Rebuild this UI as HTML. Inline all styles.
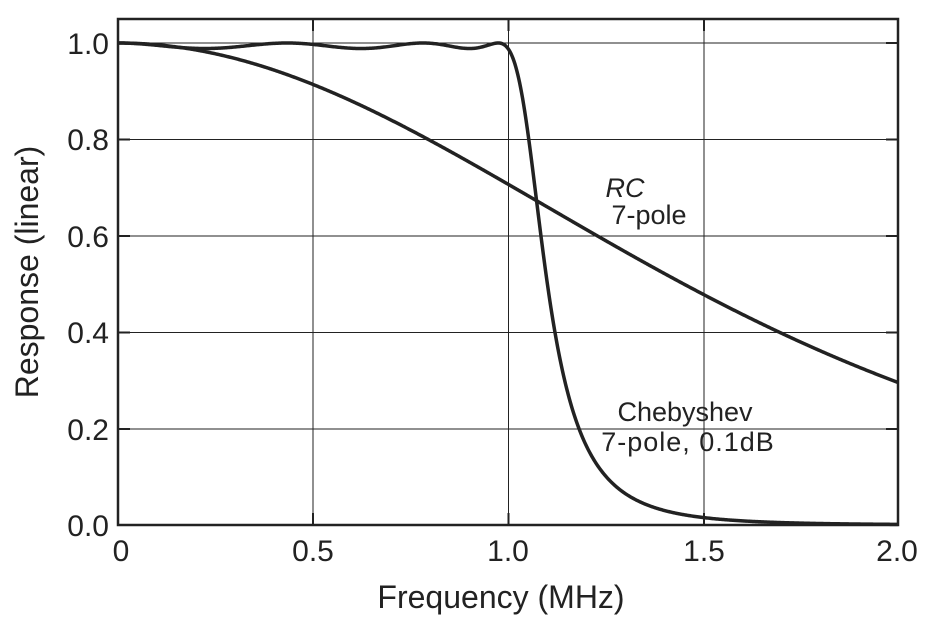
<!DOCTYPE html>
<html><head><meta charset="utf-8"><style>
html,body{margin:0;padding:0;background:#fff;}
svg{display:block;font-family:"Liberation Sans",Arial,sans-serif;}
</style></head><body>
<svg id="s" width="934" height="625" viewBox="0 0 934 625" xmlns="http://www.w3.org/2000/svg">
<g stroke="#222" stroke-width="1" fill="none">
<line x1="313" y1="19" x2="313" y2="525"/>
<line x1="508.5" y1="19" x2="508.5" y2="525"/>
<line x1="704" y1="19" x2="704" y2="525"/>
<line x1="118" y1="43" x2="898" y2="43"/>
<line x1="118" y1="139.5" x2="898" y2="139.5"/>
<line x1="118" y1="236" x2="898" y2="236"/>
<line x1="118" y1="332.5" x2="898" y2="332.5"/>
<line x1="118" y1="429" x2="898" y2="429"/>
</g>
<g stroke="#222" stroke-width="2" fill="none">
<path d="M313 19v12M508.5 19v12M704 19v12M313 525v-12M508.5 525v-12M704 525v-12M118 139.5h12M118 236h12M118 332.5h12M118 429h12M898 139.5h-12M898 236h-12M898 332.5h-12M898 429h-12M118 43h12M898 43h-12"/>
</g>
<rect x="118" y="19" width="780" height="506" fill="none" stroke="#222" stroke-width="2.5"/>
<path id="rc" fill="none" stroke="#222" stroke-width="3.5"/>
<path id="ch" fill="none" stroke="#222" stroke-width="3.5"/>
<g font-size="30" fill="#222" text-anchor="end">
<text x="109" y="54">1.0</text>
<text x="109" y="150">0.8</text>
<text x="109" y="247">0.6</text>
<text x="109" y="343">0.4</text>
<text x="109" y="440">0.2</text>
<text x="109" y="536">0.0</text>
</g>
<g font-size="30" fill="#222" text-anchor="middle">
<text x="121" y="561">0</text>
<text x="313" y="561">0.5</text>
<text x="508" y="561">1.0</text>
<text x="704" y="561">1.5</text>
<text x="897" y="561">2.0</text>
<text x="501" y="608" font-size="32">Frequency (MHz)</text>
<text transform="translate(38,272) rotate(-90)" font-size="32">Response (linear)</text>
<text x="625" y="197" font-size="27" font-style="italic">RC</text>
<text x="649" y="224" font-size="27">7-pole</text>
<text x="685" y="421" font-size="27">Chebyshev</text>
<text x="688" y="451" font-size="27" letter-spacing="1">7-pole, 0.1dB</text>
</g>
</svg>
<script>
function X(f){return 118+f*390;}
function Y(v){return 525-v*482;}
var a="",b="";
var fc2=1/(Math.pow(2,1/7)-1);
var e2=Math.pow(10,0.01)-1;
function T7(x){if(Math.abs(x)<=1)return Math.cos(7*Math.acos(x));return Math.cosh(7*Math.acosh(x));}
for(var i=0;i<=800;i++){var f=i*2/800;
var r=Math.pow(1+f*f/fc2,-3.5);
var t=T7(f);var c=1/Math.sqrt(1+e2*t*t);
a+=(i?"L":"M")+X(f).toFixed(2)+" "+Y(r).toFixed(2);
b+=(i?"L":"M")+X(f).toFixed(2)+" "+Y(c).toFixed(2);}
document.getElementById("rc").setAttribute("d",a);
document.getElementById("ch").setAttribute("d",b);
</script>
</body></html>
